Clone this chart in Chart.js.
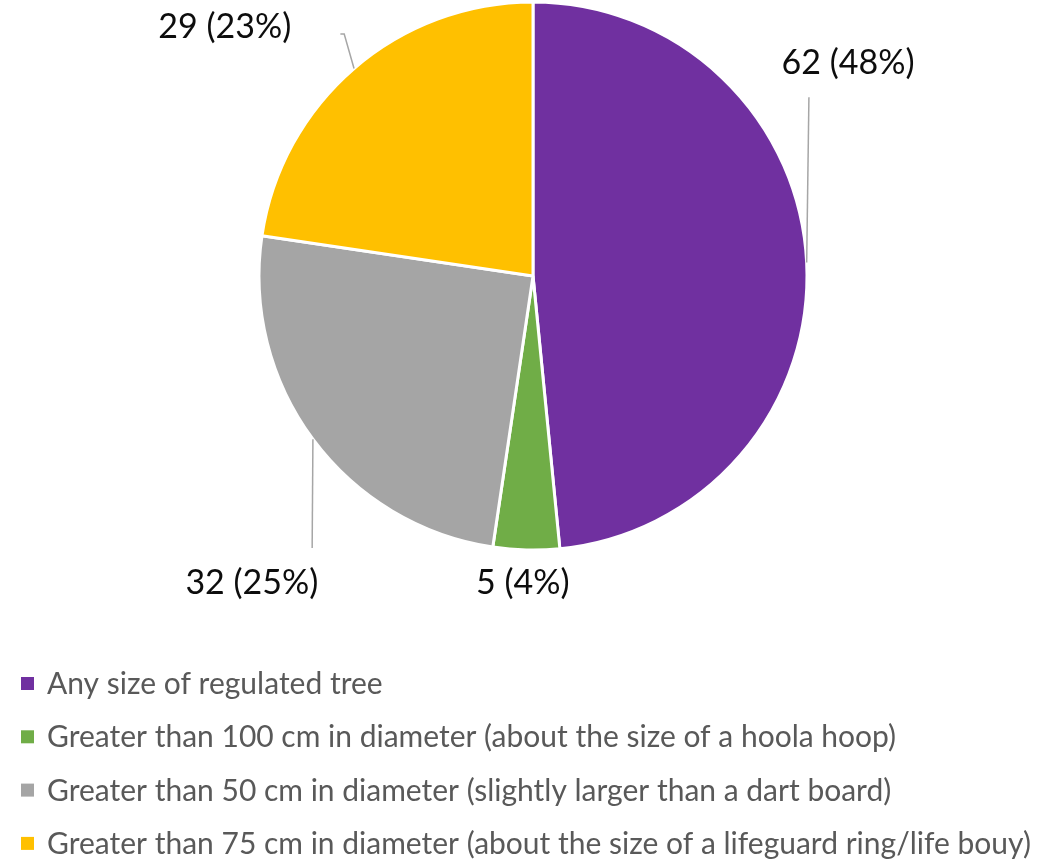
<!DOCTYPE html>
<html>
<head>
<meta charset="utf-8">
<script src="https://cdn.jsdelivr.net/npm/chart.js@4/dist/chart.umd.min.js"></script>
<style>
  html, body { margin: 0; padding: 0; background: #fff; }
  canvas { display: block; }
</style>
</head>
<body>
<canvas id="grafico" width="1053" height="863"></canvas>
<script>
// datos del grafico
const categorias = [
  'Any size of regulated tree',
  'Greater than 100 cm in diameter (about the size of a hoola hoop)',
  'Greater than 50 cm in diameter (slightly larger than a dart board)',
  'Greater than 75 cm in diameter (about the size of a lifeguard ring/life bouy)'
]
const valores = [62, 5, 32, 29]
const colores = ['#7030A0', '#70AD47', '#A5A5A5', '#FFC000']

// posicion de las etiquetas (en radios, relativo al centro): x centro, linea base, y puntos de la linea guia
const etiquetas = [
  { x: 1.150, y: -0.736, guia: [[1.007, -0.652]] },
  { x: -0.037, y: 1.161, guia: [] },
  { x: -1.026, y: 1.161, guia: [[-0.806, 0.993]] },
  { x: -1.125, y: -0.868, guia: [[-0.689, -0.883], [-0.703, -0.883]] }
]

const fuente = 'Lato, "Open Sans", sans-serif'

// etiquetas de datos con lineas guia
const pluginEtiquetas = {
  id: 'etiquetas',
  afterDatasetsDraw(chart) {
    const ctx = chart.ctx
    const arcos = chart.getDatasetMeta(0).data
    const total = valores.reduce((a, b) => a + b, 0)
    ctx.save()
    arcos.forEach((arco, i) => {
      const cx = arco.x, cy = arco.y
      const r = arco.outerRadius
      const et = etiquetas[i]
      if (et.guia.length) {
        const medio = (arco.startAngle + arco.endAngle) / 2
        ctx.beginPath()
        ctx.moveTo(cx + Math.cos(medio) * r, cy + Math.sin(medio) * r)
        et.guia.forEach(p => ctx.lineTo(cx + p[0] * r, cy + p[1] * r))
        ctx.strokeStyle = '#A6A6A6'
        ctx.lineWidth = 1.5
        ctx.stroke()
      }
      const pct = Math.round(valores[i] / total * 100)
      ctx.fillStyle = '#0D0D0D'
      ctx.font = '34px ' + fuente
      ctx.textAlign = 'center'
      ctx.textBaseline = 'alphabetic'
      ctx.fillText(valores[i] + ' (' + pct + '%)', cx + et.x * r, cy + et.y * r)
    })
    ctx.restore()
  }
}

// leyenda abajo a la izquierda
const pluginLeyenda = {
  id: 'leyenda',
  afterDraw(chart) {
    const ctx = chart.ctx
    ctx.save()
    ctx.font = '30px ' + fuente
    ctx.textBaseline = 'middle'
    ctx.textAlign = 'left'
    categorias.forEach((cat, i) => {
      const y = 683.5 + i * 53.3
      ctx.fillStyle = colores[i]
      ctx.fillRect(21, y - 6.5, 13, 13)
      ctx.fillStyle = '#595959'
      ctx.fillText(cat, 47, y + 1)
    })
    ctx.restore()
  }
}

const ctxPie = document.getElementById('grafico').getContext('2d')
const graficoPie = new Chart(ctxPie, {
  type: 'pie',
  data: {
    labels: categorias,
    datasets: [{
      data: valores,
      backgroundColor: colores,
      borderColor: '#FFFFFF',
      borderWidth: 3
    }]
  },
  options: {
    responsive: false,
    animation: false,
    radius: 274,
    layout: { padding: { top: 0, bottom: 311, left: 113, right: 100 } },
    plugins: {
      legend: { display: false },
      tooltip: { enabled: false }
    }
  },
  plugins: [pluginEtiquetas, pluginLeyenda]
})
</script>
</body>
</html>
